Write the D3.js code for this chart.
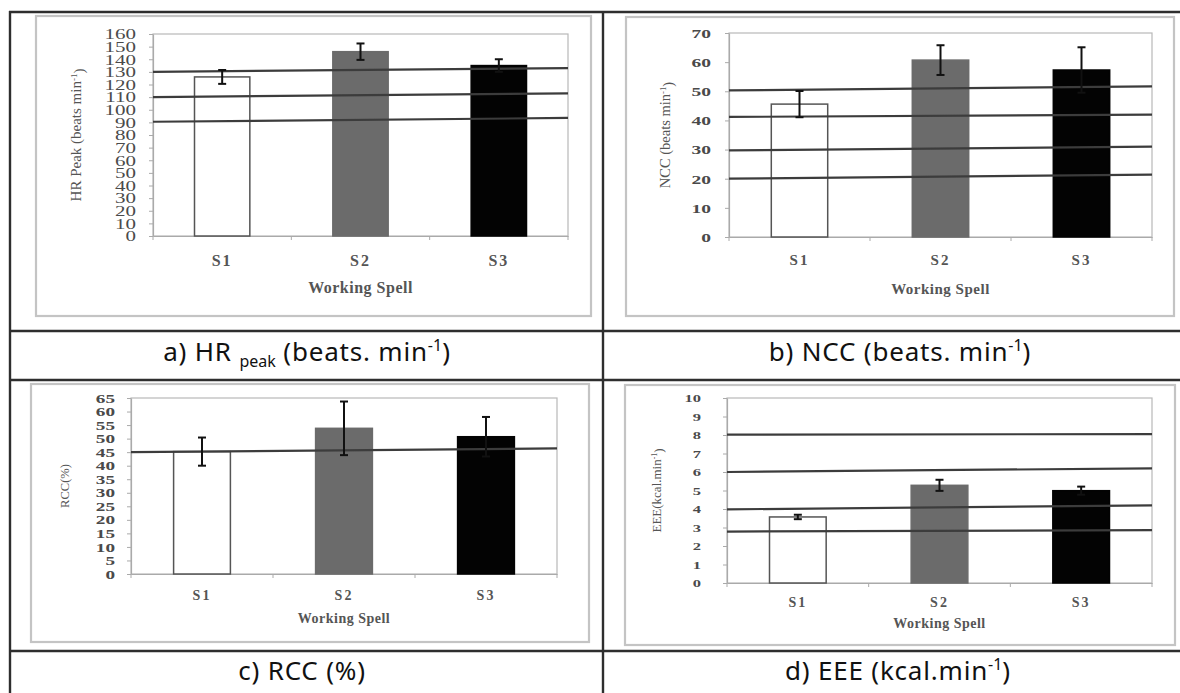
<!DOCTYPE html>
<html>
<head>
<meta charset="utf-8">
<title>Working spell responses</title>
<style>
body { margin: 0; background: #fff; }
svg { display: block; background: #fff; }
</style>
</head>
<body>
<div id="chart"></div>
<script src="https://d3js.org/d3.v7.min.js"></script>
<script>
// data
var categories = ["S1", "S2", "S3"];

var hrMeans = [126, 146, 135];
var hrErrors = [5.5, 6.5, 5];
var hrTicks = d3.range(0, 161, 10);
var hrRefStart = [130, 110, 90.5];
var hrRefEnd = [133, 113, 93.5];

var nccMeans = [45.6, 60.7, 57.3];
var nccErrors = [4.5, 5.1, 7.8];
var nccTicks = d3.range(0, 71, 10);
var nccRefStart = [50.3, 41.2, 29.7, 20];
var nccRefEnd = [51.7, 42, 31, 21.4];

var rccMeans = [45.2, 53.8, 50.7];
var rccErrors = [5.2, 9.9, 7.3];
var rccTicks = d3.range(0, 66, 5);
var rccRefStart = [45];
var rccRefEnd = [46.4];

var eeeMeans = [3.57, 5.28, 4.99];
var eeeErrors = [0.12, 0.3, 0.22];
var eeeTicks = d3.range(0, 11, 1);
var eeeRefStart = [8.02, 6.0, 3.98, 2.78];
var eeeRefEnd = [8.05, 6.2, 4.2, 2.86];

var barFills = ["#ffffff", "#6b6b6b", "#030303"];

var W = 1180, H = 693;
var svg = d3.select("#chart").append("svg").attr("width", W).attr("height", H);

var serif = "'Liberation Serif', 'DejaVu Serif', serif";
var sans = "'Noto Sans', 'Open Sans', sans-serif";

// panels: frame box, plot box and text tweaks
var panels = [
  { means: hrMeans, errs: hrErrors, ticks: hrTicks, refA: hrRefStart, refB: hrRefEnd,
    frame: [36, 16, 555, 300], plot: [153, 34, 415, 202],
    tickSize: 14, tickSx: 1.5, tickBold: false, tickPad: 17,
    ylab: ["HR Peak (beats min", "-1", ")"], ylabX: 76, ylabSize: 15,
    catY: 260, titleY: 293, xSize: 16 },
  { means: nccMeans, errs: nccErrors, ticks: nccTicks, refA: nccRefStart, refB: nccRefEnd,
    frame: [626, 17, 548, 299], plot: [729, 33, 423, 204],
    tickSize: 13, tickSx: 1.5, tickBold: true, tickPad: 18,
    ylab: ["NCC (beats min", "-1", ")"], ylabX: 665, ylabSize: 14.5,
    catY: 260, titleY: 294, xSize: 15 },
  { means: rccMeans, errs: rccErrors, ticks: rccTicks, refA: rccRefStart, refB: rccRefEnd,
    frame: [31, 384, 558, 258], plot: [131, 398, 426, 176],
    tickSize: 12, tickSx: 1.6, tickBold: true, tickPad: 16,
    ylab: ["RCC(%)", "", ""], ylabX: 65, ylabSize: 12.5,
    catY: 595, titleY: 623, xSize: 14 },
  { means: eeeMeans, errs: eeeErrors, ticks: eeeTicks, refA: eeeRefStart, refB: eeeRefEnd,
    frame: [625, 385, 550, 260], plot: [727, 398, 425, 185],
    tickSize: 11, tickSx: 1.5, tickBold: true, tickPad: 26,
    ylab: ["EEE(kcal.min", "-1", ")"], ylabX: 656, ylabSize: 13,
    catY: 602, titleY: 628, xSize: 14 }
];

panels.forEach(function(p) {
  var g = svg.append("g");
  var px = p.plot[0], py = p.plot[1], pw = p.plot[2], ph = p.plot[3];

  // outer light frame of the embedded chart
  g.append("rect")
    .attr("x", p.frame[0]).attr("y", p.frame[1])
    .attr("width", p.frame[2]).attr("height", p.frame[3])
    .attr("fill", "#fff").attr("stroke", "#c4c4c4").attr("stroke-width", 2.2);

  var x = d3.scaleBand().domain(categories).range([px, px + pw])
    .paddingInner(0.6).paddingOuter(0.3);
  var yMax = p.ticks[p.ticks.length - 1];
  var y = d3.scaleLinear().domain([0, yMax]).range([py + ph, py]);

  // plot box
  g.append("rect").attr("x", px).attr("y", py).attr("width", pw).attr("height", ph)
    .attr("fill", "none").attr("stroke", "#b8b8b8").attr("stroke-width", 1.2);

  // y axis
  var yAxis = g.append("g").attr("transform", "translate(" + px + ",0)")
    .call(d3.axisLeft(y).tickValues(p.ticks).tickSize(4).tickSizeOuter(0).tickPadding(0));
  yAxis.select(".domain").attr("stroke", "#aaa").attr("stroke-width", 1.2);
  yAxis.selectAll(".tick line").attr("stroke", "#aaa");
  yAxis.selectAll(".tick text")
    .attr("x", -p.tickPad / p.tickSx)
    .attr("transform", "scale(" + p.tickSx + ",1)")
    .attr("dy", "0.34em")
    .attr("fill", "#4a4a4a")
    .style("font-family", serif)
    .style("font-size", p.tickSize + "px")
    .style("font-weight", p.tickBold ? "bold" : "normal");

  // x axis with ticks on band boundaries
  var xAxis = g.append("g").attr("transform", "translate(0," + (py + ph) + ")")
    .call(d3.axisBottom(x).tickSize(0).tickSizeOuter(0)
      .tickPadding(p.catY - py - ph - 0.36 * p.xSize));
  xAxis.select(".domain").attr("stroke", "#aaa").attr("stroke-width", 1.2);
  xAxis.selectAll(".tick text")
    .attr("fill", "#555")
    .style("font-family", serif)
    .style("font-size", p.xSize + "px")
    .style("font-weight", "bold")
    .style("letter-spacing", "2px");
  g.selectAll(".bound").data(d3.range(categories.length + 1)).enter().append("line")
    .attr("x1", function(i) { return px + i * x.step(); })
    .attr("x2", function(i) { return px + i * x.step(); })
    .attr("y1", py + ph).attr("y2", py + ph + 4)
    .attr("stroke", "#aaa");

  g.append("text")
    .attr("x", px + pw / 2).attr("y", p.titleY)
    .attr("text-anchor", "middle")
    .attr("fill", "#555")
    .style("font-family", serif)
    .style("font-size", p.xSize + "px")
    .style("font-weight", "bold")
    .style("letter-spacing", "0.5px")
    .text("Working Spell");

  // y label
  var yl = g.append("text")
    .attr("transform", "translate(" + p.ylabX + "," + (py + ph / 2) + ") rotate(-90)")
    .attr("text-anchor", "middle")
    .attr("dy", "0.35em")
    .attr("fill", "#555")
    .style("font-family", serif)
    .style("font-size", p.ylabSize + "px");
  yl.append("tspan").text(p.ylab[0]);
  if (p.ylab[1]) {
    yl.append("tspan").attr("dy", "-0.45em").style("font-size", "0.6em").text(p.ylab[1]);
    yl.append("tspan").attr("dy", "0.45em").text(p.ylab[2]);
  }

  // bars
  g.selectAll(".bar").data(p.means).enter().append("rect")
    .attr("x", function(d, i) { return x(categories[i]); })
    .attr("y", function(d) { return y(d); })
    .attr("width", x.bandwidth())
    .attr("height", function(d) { return y(0) - y(d); })
    .attr("fill", function(d, i) { return barFills[i]; })
    .attr("stroke", function(d, i) { return i === 0 ? "#555" : barFills[i]; })
    .attr("stroke-width", 1.5);

  // reference lines (slightly tilted, as in the source)
  g.selectAll(".ref").data(p.refA).enter().append("line")
    .attr("x1", px).attr("x2", px + pw)
    .attr("y1", function(d) { return y(d); })
    .attr("y2", function(d, i) { return y(p.refB[i]); })
    .attr("stroke", "#3c3c3c").attr("stroke-width", 2.2);

  // error bars
  var eb = g.selectAll(".err").data(p.means).enter().append("g")
    .attr("stroke", "#111").attr("stroke-width", 2);
  eb.append("line")
    .attr("x1", function(d, i) { return x(categories[i]) + x.bandwidth() / 2; })
    .attr("x2", function(d, i) { return x(categories[i]) + x.bandwidth() / 2; })
    .attr("y1", function(d, i) { return y(d + p.errs[i]); })
    .attr("y2", function(d, i) { return y(d - p.errs[i]); });
  [1, -1].forEach(function(s) {
    eb.append("line")
      .attr("x1", function(d, i) { return x(categories[i]) + x.bandwidth() / 2 - 4; })
      .attr("x2", function(d, i) { return x(categories[i]) + x.bandwidth() / 2 + 4; })
      .attr("y1", function(d, i) { return y(d + s * p.errs[i]); })
      .attr("y2", function(d, i) { return y(d + s * p.errs[i]); });
  });
});

// table grid
var grid = svg.append("g").attr("stroke", "#2e2e2e").attr("stroke-width", 2.4);
grid.append("line").attr("x1", 9).attr("x2", W).attr("y1", 12).attr("y2", 12);
[331, 380, 651].forEach(function(yy) {
  grid.append("line").attr("x1", 9).attr("x2", W).attr("y1", yy).attr("y2", yy);
});
grid.append("line").attr("x1", 10).attr("x2", 10).attr("y1", 11).attr("y2", H);
grid.append("line").attr("x1", 603).attr("x2", 603).attr("y1", 11).attr("y2", H);

// captions
var captions = [
  { x: 307, y: 361, parts: [["a) HR ", 0], ["peak", -1], [" (beats. min", 0], ["-1", 1], [")", 0]] },
  { x: 900, y: 361, parts: [["b) NCC (beats. min", 0], ["-1", 1], [")", 0]] },
  { x: 302, y: 680, parts: [["c) RCC (%)", 0]] },
  { x: 898, y: 680, parts: [["d) EEE (kcal.min", 0], ["-1", 1], [")", 0]] }
];
captions.forEach(function(c) {
  var t = svg.append("text")
    .attr("x", c.x).attr("y", c.y)
    .attr("text-anchor", "middle")
    .attr("dy", "0.35em")
    .attr("fill", "#111")
    .style("font-family", sans)
    .style("font-size", "26px")
    .style("letter-spacing", "0.8px");
  var shift = 0;
  c.parts.forEach(function(pt) {
    var s = t.append("tspan").text(pt[0]);
    var target = pt[1] === 1 ? -10 : (pt[1] === -1 ? 6 : 0);
    s.attr("dy", target - shift);
    shift = target;
    if (pt[1] !== 0) s.style("font-size", "16px").style("letter-spacing", "0px");
  });
});
</script>
</body>
</html>
